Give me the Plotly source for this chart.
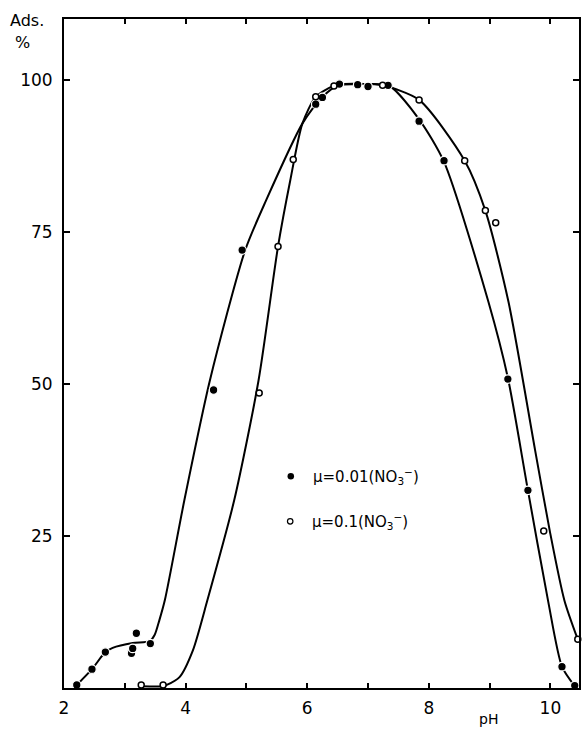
import plotly.graph_objects as go

# Measured adsorption points, mu = 0.01 (NO3-)
ph_low = [2.21, 2.46, 2.68, 3.11, 3.13, 3.19, 3.42, 4.46, 4.93, 6.14, 6.25, 6.53,
          6.83, 7.00, 7.33, 7.84, 8.25, 9.30, 9.63, 10.19, 10.40]
ads_low = [0.5, 3.1, 5.9, 5.7, 6.5, 9.0, 7.3, 49.0, 72.0, 96.0, 97.1, 99.3,
           99.2, 98.9, 99.1, 93.2, 86.7, 50.8, 32.5, 3.5, 0.4]

# Measured adsorption points, mu = 0.1 (NO3-)
ph_high = [3.27, 3.63, 5.21, 5.52, 5.77, 6.14, 6.44, 7.24, 7.84, 8.59, 8.93,
           9.10, 9.89, 10.45]
ads_high = [0.5, 0.5, 48.5, 72.6, 86.9, 97.2, 99.0, 99.1, 96.7, 86.7, 78.5,
            76.5, 25.8, 8.0]

# Hand-fitted curve knots
curve_low_ph = [2.21, 2.46, 2.68, 2.80, 3.13, 3.41, 3.49, 3.57, 3.66, 3.98, 4.40,
                4.98, 5.32, 5.92, 6.25, 6.53, 7.00, 7.35, 7.84, 8.25, 8.98,
                9.30, 9.63, 9.96, 10.19, 10.40]
curve_low_ads = [0.5, 3.1, 5.9, 6.6, 7.4, 7.7, 8.7, 11.2, 14.5, 30.9, 50.6,
                 72.0, 80.1, 92.8, 97.2, 99.2, 99.3, 99.0, 93.5, 86.5, 63.5,
                 51.0, 32.5, 14.4, 3.5, 0.3]

curve_high_ph = [3.27, 3.63, 3.69, 3.90, 4.12, 4.36, 4.80, 5.20, 5.52, 5.72, 5.92,
                 6.14, 6.44, 6.90, 7.24, 7.84, 8.59, 8.93, 9.31, 9.75,
                 9.99, 10.23, 10.45]
curve_high_ads = [0.3, 0.3, 0.5, 1.8, 6.2, 14.5, 30.9, 50.6, 72.6, 83.4, 92.8,
                  97.2, 99.0, 99.3, 99.1, 96.7, 86.7, 78.5, 63.5, 39.0,
                  25.8, 14.4, 8.0]

x_ticks = [2, 4, 6, 8, 10]
y_ticks = [25, 50, 75, 100]

legend_labels = ["μ=0.01(NO<sub>3</sub><sup>−</sup>)", "μ=0.1(NO<sub>3</sub><sup>−</sup>)"]
legend_ph = [5.73, 5.72]
legend_ads = [34.8, 27.4]

FONT = "DejaVu Sans"
INK = "black"

fig = go.Figure()

for cx, cy in [(curve_low_ph, curve_low_ads), (curve_high_ph, curve_high_ads)]:
    fig.add_trace(go.Scatter(
        x=cx, y=cy, mode="lines",
        line=dict(color=INK, width=2, shape="spline", smoothing=0.7),
        hoverinfo="skip", showlegend=False))

fig.add_trace(go.Scatter(
    x=ph_low, y=ads_low, mode="markers", cliponaxis=False,
    marker=dict(symbol="circle", size=8.5, color=INK,
                line=dict(color="white", width=1.2)),
    showlegend=False))

fig.add_trace(go.Scatter(
    x=ph_high, y=ads_high, mode="markers", cliponaxis=False,
    marker=dict(symbol="circle", size=6, color="white",
                line=dict(color=INK, width=1.5)),
    showlegend=False))

# Legend symbols drawn inside the plot
fig.add_trace(go.Scatter(
    x=[legend_ph[0]], y=[legend_ads[0]], mode="markers",
    marker=dict(symbol="circle", size=6.5, color=INK), showlegend=False))
fig.add_trace(go.Scatter(
    x=[legend_ph[1]], y=[legend_ads[1]], mode="markers",
    marker=dict(symbol="circle", size=5.5, color="white",
                line=dict(color=INK, width=1.2)), showlegend=False))

for lx, ly, txt in zip(legend_ph, legend_ads, legend_labels):
    fig.add_annotation(x=lx + 0.33, y=ly, text=txt, showarrow=False,
                       xanchor="left", yanchor="middle",
                       font=dict(family=FONT, size=15, color=INK))

# Axis title set in two lines at the top-left corner
fig.add_annotation(xref="paper", yref="paper", x=-0.0725, y=0.9985,
                   text="Ads.", showarrow=False,
                   xanchor="center", yanchor="middle",
                   font=dict(family=FONT, size=16, color=INK))
fig.add_annotation(xref="paper", yref="paper", x=-0.080, y=0.9656,
                   text="%", showarrow=False,
                   xanchor="center", yanchor="middle",
                   font=dict(family=FONT, size=16, color=INK))
fig.add_annotation(x=8.98, y=0, yref="y", text="pH", showarrow=False,
                   xanchor="center", yanchor="top", yshift=-21,
                   font=dict(family=FONT, size=14, color=INK))

fig.update_layout(
    width=582, height=730,
    margin=dict(l=64, r=1, t=19, b=42),
    paper_bgcolor="white", plot_bgcolor="white",
    showlegend=False,
    font=dict(family=FONT, color=INK),
)
fig.update_xaxes(
    range=[2, 10.47], tickvals=x_ticks,
    ticks="inside", ticklen=5, tickwidth=1.5, tickcolor=INK,
    minor=dict(ticks="inside", dtick=1, tick0=2, ticklen=5, tickwidth=1.5,
               tickcolor=INK),
    showline=True, linecolor=INK, linewidth=2, mirror="ticks",
    showgrid=False, zeroline=False, ticklabelstandoff=4,
    tickfont=dict(family=FONT, size=17, color=INK))
fig.update_yaxes(
    range=[0, 110], tickvals=y_ticks,
    ticks="inside", ticklen=6, tickwidth=1.5, tickcolor=INK,
    showline=True, linecolor=INK, linewidth=2, mirror="ticks",
    showgrid=False, zeroline=False, ticklabelstandoff=6,
    tickfont=dict(family=FONT, size=17, color=INK))

fig.write_html("out.html")
